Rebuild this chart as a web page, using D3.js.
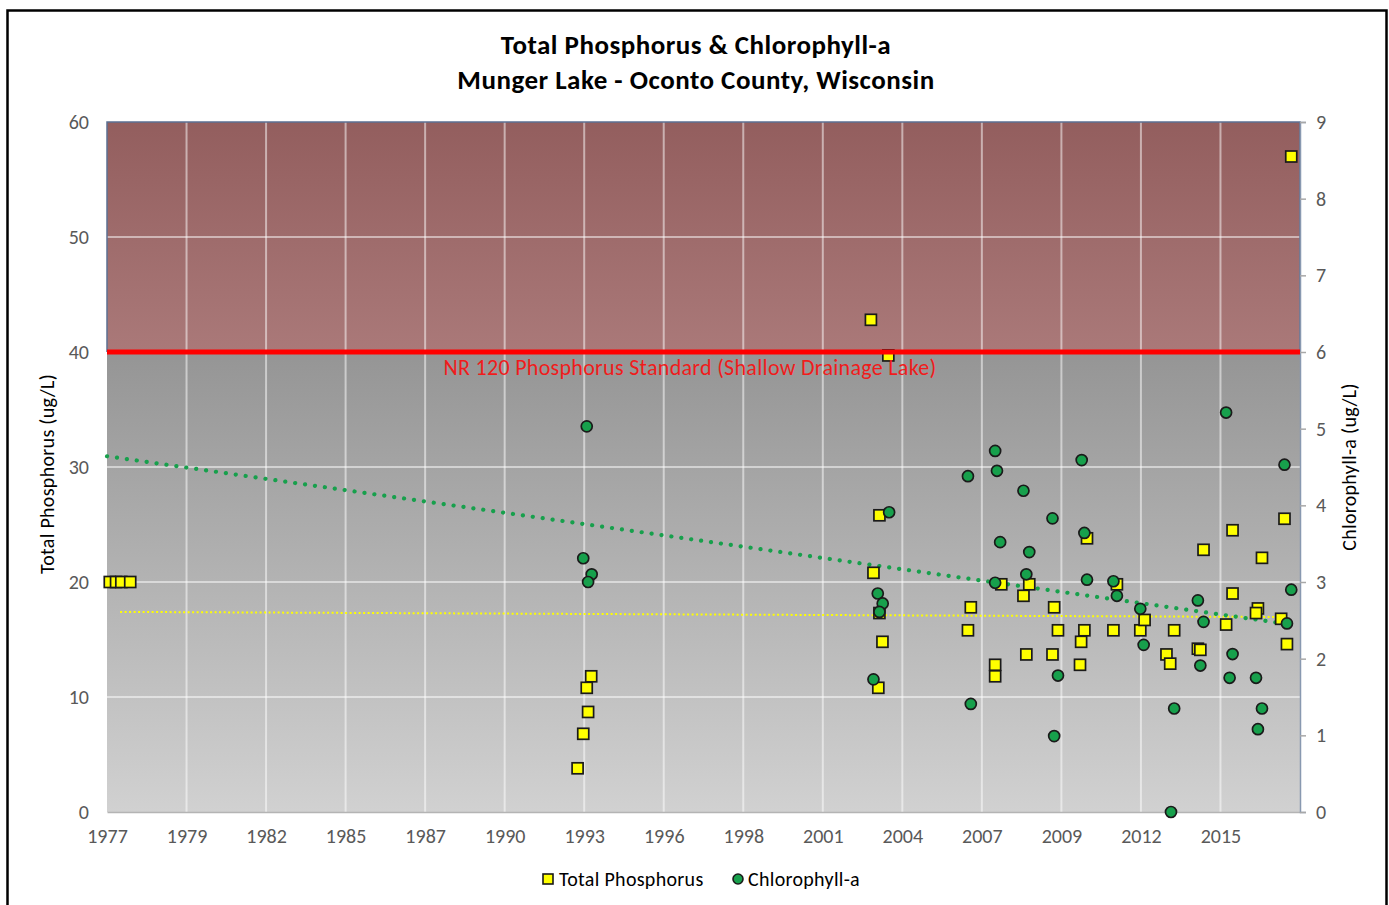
<!DOCTYPE html>
<html>
<head>
<meta charset="utf-8">
<script src="https://cdn.jsdelivr.net/npm/d3@7"></script>
<style>
body { margin: 0; background: #fff; }
svg { display: block; font-family: Carlito, Lato, "Open Sans", sans-serif; }
</style>
</head>
<body>
<div class="chart"></div>
<script>
// total phosphorus samples (ug/L)
var tpDates = ["1977-02-05","1977-04-25","1977-06-30","1977-10-20",
  "1993-03-15","1993-05-25","1993-07-25","1993-07-08","1993-09-02",
  "2003-04-20","2003-11-25","2003-08-05","2003-05-22","2003-08-05","2003-09-12","2003-07-22",
  "2010-09-27","2007-10-15","2008-10-01","2011-10-08","2008-07-20","2006-09-27","2009-08-10",
  "2006-08-22","2009-09-27","2010-08-25","2011-08-25","2010-07-15","2008-08-25","2009-07-20",
  "2010-07-01","2007-07-30","2007-07-30",
  "2017-07-15","2015-10-01","2014-10-01","2016-10-05","2015-10-01","2016-08-15","2016-07-22",
  "2017-06-03","2015-07-12","2012-07-28","2013-09-27","2012-09-20","2017-08-15","2014-07-22",
  "2014-08-22","2013-06-22","2013-08-08","2017-10-08"];
var tpValues = [20,20,20,20,
  3.8,6.8,8.7,10.8,11.8,
  42.8,39.7,25.8,20.8,17.3,14.8,10.8,
  23.8,19.8,19.8,19.8,18.8,17.8,17.8,
  15.8,15.8,15.8,15.8,14.8,13.7,13.7,
  12.8,12.8,11.8,
  25.5,24.5,22.8,22.1,19.0,17.7,17.3,
  16.8,16.3,15.8,15.8,16.7,14.6,14.2,
  14.1,13.7,12.9,57];

// chlorophyll-a samples (ug/L)
var chlDates = ["1993-07-08","1993-05-25","1993-09-08","1993-07-25",
  "2003-12-05","2003-07-15","2003-09-15","2003-08-05","2003-05-22",
  "2007-07-30","2010-07-22","2006-08-22","2007-08-22","2008-07-20","2009-07-20","2010-08-25",
  "2007-10-01","2008-10-01","2008-08-25","2010-09-27","2007-07-30","2011-08-25","2011-10-08",
  "2009-09-27","2006-09-27","2009-08-10",
  "2015-07-12","2017-07-15","2017-10-08","2014-07-22","2012-07-28","2014-10-01","2017-08-15",
  "2012-09-08","2015-10-01","2014-08-22","2015-08-25","2016-07-22","2013-09-27","2016-10-05",
  "2016-08-15","2013-08-18"];
var chlValues = [5.03,3.31,3.10,3.00,
  3.91,2.85,2.72,2.61,1.73,
  4.71,4.59,4.38,4.45,4.19,3.83,3.64,
  3.52,3.39,3.10,3.03,2.99,3.01,2.82,
  1.78,1.41,0.99,
  5.21,4.53,2.90,2.76,2.65,2.48,2.46,
  2.18,2.06,1.91,1.75,1.75,1.35,1.35,
  1.08,0.00];

// trend lines (end points)
var tpTrendDates = ["1977-06-15","2017-09-15"];
var tpTrendValues = [17.4, 16.95];
var chlTrendDates = ["1977-01-01","2017-11-10"];
var chlTrendValues = [4.64, 2.44];

var leftTicks = [0,10,20,30,40,50,60];
var rightTicks = [0,1,2,3,4,5,6,7,8,9];
var tpStandard = 40;

var width = 1389, height = 905;
var plotLeft = 107, plotRight = 1300, plotTop = 122, plotBottom = 812;
var parse = d3.timeParse("%Y-%m-%d");
var start = parse("1977-01-01");
var xTicks = d3.range(0, 15).map(function(i){ return d3.timeDay.offset(start, i * 1000); });

var x = d3.scaleTime().domain([start, d3.timeDay.offset(start, 15000)]).range([plotLeft, plotRight]);
var yL = d3.scaleLinear().domain([0, 60]).range([plotBottom, plotTop]);
var yR = d3.scaleLinear().domain([0, 9]).range([plotBottom, plotTop]);

var tp = tpDates.map(function(d, i){ return {date: parse(d), v: tpValues[i]}; });
var chl = chlDates.map(function(d, i){ return {date: parse(d), v: chlValues[i]}; });

var svg = d3.select(".chart").append("svg").attr("width", width).attr("height", height);

var defs = svg.append("defs");
var g1 = defs.append("linearGradient").attr("id", "redfill").attr("x1", 0).attr("y1", 0).attr("x2", 0).attr("y2", 1);
g1.append("stop").attr("offset", "0%").attr("stop-color", "#935e5e");
g1.append("stop").attr("offset", "100%").attr("stop-color", "#aa7979");
var g2 = defs.append("linearGradient").attr("id", "grayfill").attr("x1", 0).attr("y1", 0).attr("x2", 0).attr("y2", 1);
g2.append("stop").attr("offset", "0%").attr("stop-color", "#959595");
g2.append("stop").attr("offset", "100%").attr("stop-color", "#d1d1d1");

// outer frame
svg.append("rect").attr("x", 7.5).attr("y", 10.5).attr("width", 1379).attr("height", 905)
  .attr("fill", "none").attr("stroke", "#000").attr("stroke-width", 2.5);

svg.append("text").attr("x", 696).attr("y", 54).attr("text-anchor", "middle")
  .attr("font-size", 27).attr("font-weight", "bold").attr("letter-spacing", 0.5)
  .text("Total Phosphorus & Chlorophyll-a");
svg.append("text").attr("x", 696).attr("y", 89).attr("text-anchor", "middle")
  .attr("font-size", 27).attr("font-weight", "bold").attr("letter-spacing", 0.5)
  .text("Munger Lake - Oconto County, Wisconsin");

// plot backgrounds
svg.append("rect").attr("x", plotLeft).attr("y", yL(60)).attr("width", plotRight - plotLeft)
  .attr("height", yL(tpStandard) - yL(60)).attr("fill", "url(#redfill)");
svg.append("rect").attr("x", plotLeft).attr("y", yL(tpStandard)).attr("width", plotRight - plotLeft)
  .attr("height", yL(0) - yL(tpStandard)).attr("fill", "url(#grayfill)");

// gridlines
svg.append("g").selectAll("line").data(leftTicks.slice(1, -1)).enter().append("line")
  .attr("x1", plotLeft).attr("x2", plotRight)
  .attr("y1", function(d){ return yL(d); }).attr("y2", function(d){ return yL(d); })
  .attr("stroke", "#fff").attr("stroke-opacity", 0.5).attr("stroke-width", 2);
svg.append("g").selectAll("line").data(xTicks.slice(1)).enter().append("line")
  .attr("x1", function(d){ return x(d); }).attr("x2", function(d){ return x(d); })
  .attr("y1", plotTop).attr("y2", plotBottom)
  .attr("stroke", "#fff").attr("stroke-opacity", 0.5).attr("stroke-width", 2);

// red zone outline
svg.append("path")
  .attr("d", "M" + plotLeft + "," + yL(tpStandard) + "V" + plotTop + "H" + plotRight + "V" + yL(tpStandard))
  .attr("fill", "none").attr("stroke", "#5c7092").attr("stroke-width", 1.5);

// axes
var xAxis = d3.axisBottom(x).tickValues(xTicks).tickFormat(d3.timeFormat("%Y")).tickSize(0).tickPadding(17);
var gx = svg.append("g").attr("transform", "translate(0," + plotBottom + ")").call(xAxis)
  .attr("font-family", null).attr("font-size", null);
gx.select(".domain").attr("stroke", "#b4b4b4").attr("stroke-width", 1.5);
gx.selectAll("text").attr("font-size", 20).attr("fill", "#595959");

var gl = svg.append("g").attr("transform", "translate(" + plotLeft + ",0)")
  .call(d3.axisLeft(yL).tickValues(leftTicks).tickSize(0).tickPadding(18))
  .attr("font-family", null).attr("font-size", null);
gl.select(".domain").remove();
gl.selectAll("text").attr("font-size", 20).attr("fill", "#595959");

var gr = svg.append("g").attr("transform", "translate(" + plotRight + ",0)")
  .call(d3.axisRight(yR).tickValues(rightTicks).tickSize(6).tickPadding(10))
  .attr("font-family", null).attr("font-size", null);
gr.select(".domain").attr("stroke", "#8898b0").attr("stroke-width", 1.5);
gr.selectAll("line").attr("stroke", "#a8a8a8").attr("stroke-width", 1.5);
gr.selectAll("text").attr("font-size", 20).attr("fill", "#595959");

svg.append("text").attr("transform", "translate(54,474) rotate(-90)").attr("text-anchor", "middle")
  .attr("font-size", 20).attr("letter-spacing", 0.3).text("Total Phosphorus (ug/L)");
svg.append("text").attr("transform", "translate(1356,467) rotate(-90)").attr("text-anchor", "middle")
  .attr("font-size", 20).attr("letter-spacing", 0.3).text("Chlorophyll-a (ug/L)");

// trend lines
var tpLine = d3.line().x(function(d){ return x(parse(d)); }).y(function(d, i){ return yL(tpTrendValues[i]); });
svg.append("path").attr("d", tpLine(tpTrendDates)).attr("fill", "none")
  .attr("stroke", "#ffff00").attr("stroke-width", 2).attr("stroke-dasharray", "2,2.5");
var chlLine = d3.line().x(function(d){ return x(parse(d)); }).y(function(d, i){ return yR(chlTrendValues[i]); });
svg.append("path").attr("d", chlLine(chlTrendDates)).attr("fill", "none")
  .attr("stroke", "#17a04c").attr("stroke-width", 4.2).attr("stroke-linecap", "round")
  .attr("stroke-dasharray", "0.1,9.9");

// markers
svg.append("g").selectAll("rect").data(tp).enter().append("rect")
  .attr("x", function(d){ return x(d.date) - 5.5; }).attr("y", function(d){ return yL(d.v) - 5.5; })
  .attr("width", 11).attr("height", 11)
  .attr("fill", "#ffff00").attr("stroke", "#1a1a1a").attr("stroke-width", 1.7);

svg.append("g").selectAll("circle").data(chl).enter().append("circle")
  .attr("cx", function(d){ return x(d.date); }).attr("cy", function(d){ return yR(d.v); })
  .attr("r", 5.5).attr("fill", "#17a04c").attr("stroke", "#1a1a1a").attr("stroke-width", 1.7);

// phosphorus standard
svg.append("line").attr("x1", plotLeft).attr("x2", plotRight)
  .attr("y1", yL(tpStandard)).attr("y2", yL(tpStandard))
  .attr("stroke", "#ff0000").attr("stroke-width", 5);
svg.append("text").attr("x", 690).attr("y", 375).attr("text-anchor", "middle")
  .attr("font-size", 22).attr("letter-spacing", 0.3).attr("fill", "#f01c1c")
  .text("NR 120 Phosphorus Standard (Shallow Drainage Lake)");

// legend
var lg = svg.append("g");
lg.append("rect").attr("x", 543).attr("y", 874).attr("width", 10).attr("height", 10)
  .attr("fill", "#ffff00").attr("stroke", "#1a1a1a").attr("stroke-width", 1.6);
lg.append("text").attr("x", 559).attr("y", 886).attr("font-size", 20).attr("letter-spacing", 0.3)
  .text("Total Phosphorus");
lg.append("circle").attr("cx", 738).attr("cy", 879).attr("r", 5)
  .attr("fill", "#17a04c").attr("stroke", "#1a1a1a").attr("stroke-width", 1.6);
lg.append("text").attr("x", 748).attr("y", 886).attr("font-size", 20).attr("letter-spacing", 0.3)
  .text("Chlorophyll-a");
</script>
</body>
</html>
